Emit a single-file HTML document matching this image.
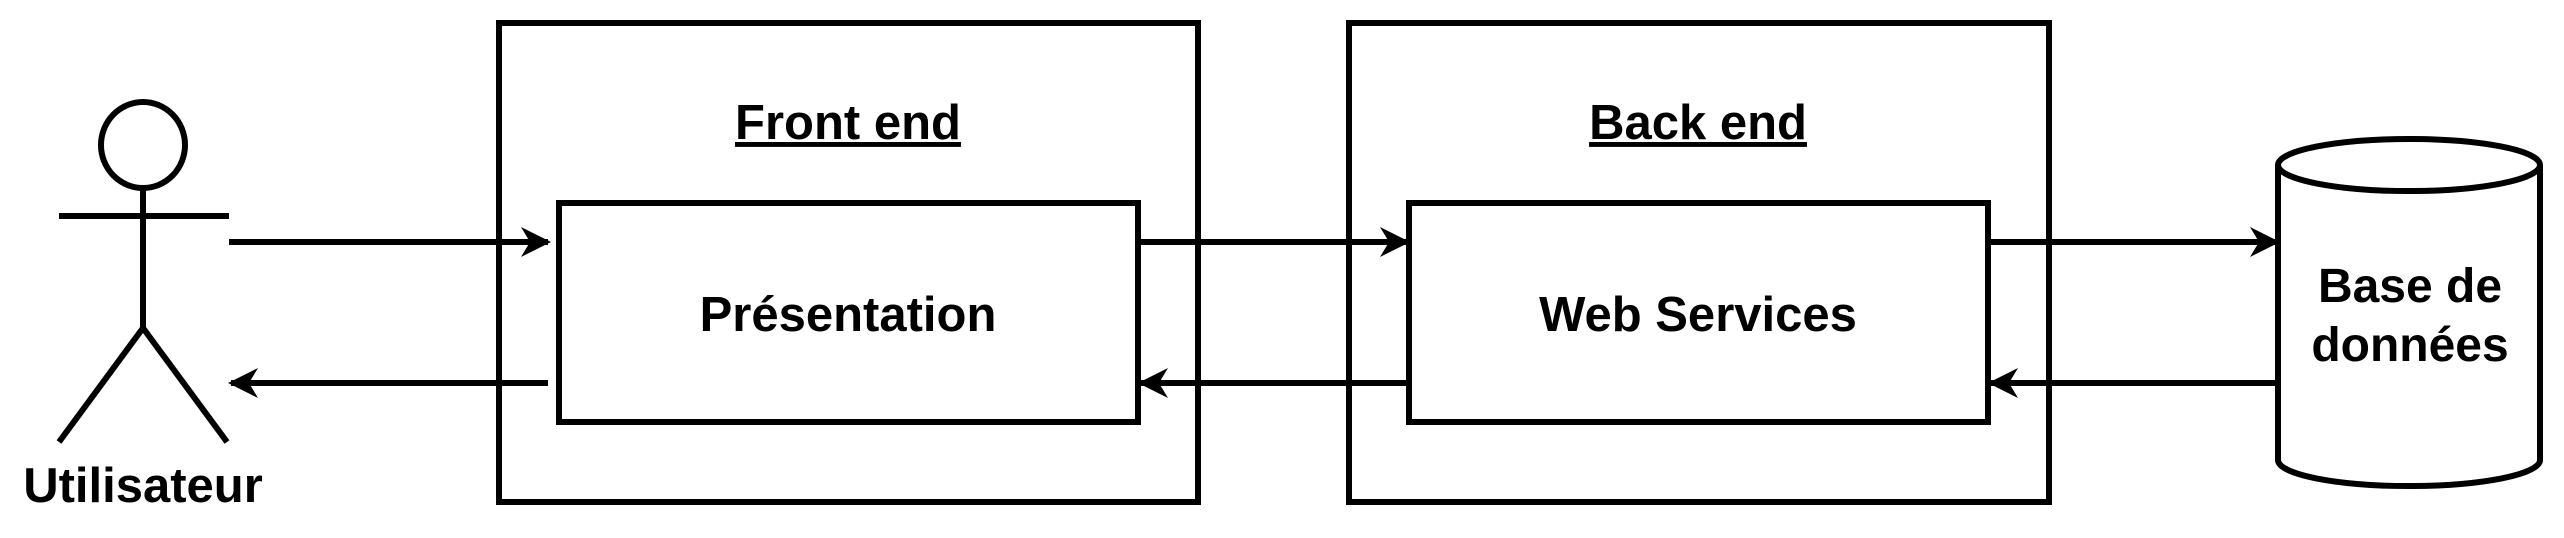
<!DOCTYPE html>
<html><head><meta charset="utf-8"><style>
html,body{margin:0;padding:0;background:#fff;}
svg{display:block;}
text{font-family:"Liberation Sans",Arial,sans-serif;font-weight:bold;fill:#000;}
</style></head><body>
<svg width="2564" height="538" viewBox="0 0 2564 538" xmlns="http://www.w3.org/2000/svg">
<defs>
<marker id="ah" markerWidth="30" markerHeight="30" refX="9" refY="5" orient="auto" markerUnits="userSpaceOnUse" viewBox="0 0 10 10">
<path d="M0,0 L10,5 L0,10 L3,5 Z" fill="#000"/>
</marker>
</defs>
<g stroke="#000" stroke-width="6" fill="none">
<ellipse cx="143" cy="145" rx="42" ry="43" fill="#fff"/>
<line x1="143" y1="188" x2="143" y2="328"/>
<line x1="59" y1="216" x2="229" y2="216"/>
<line x1="143" y1="328" x2="59" y2="442"/>
<line x1="143" y1="328" x2="227" y2="442"/>
</g>
<text x="143" y="502" font-size="49" text-anchor="middle">Utilisateur</text>

<rect x="499" y="23" width="699" height="479" fill="none" stroke="#000" stroke-width="6"/>
<text x="848" y="139" font-size="49" text-anchor="middle" text-decoration="underline">Front end</text>
<rect x="559" y="203" width="579" height="219" fill="none" stroke="#000" stroke-width="6"/>
<text x="848" y="331" font-size="49" text-anchor="middle">Présentation</text>

<rect x="1349" y="23" width="700" height="479" fill="none" stroke="#000" stroke-width="6"/>
<text x="1698" y="139" font-size="49" text-anchor="middle" text-decoration="underline">Back end</text>
<rect x="1409" y="203" width="579" height="219" fill="none" stroke="#000" stroke-width="6"/>
<text x="1698" y="331" font-size="49" text-anchor="middle">Web Services</text>

<g stroke="#000" stroke-width="6" fill="#fff">
<path d="M2278,165 L2278,460 A131,26 0 0 0 2540,460 L2540,165"/>
<ellipse cx="2409" cy="165" rx="131" ry="26"/>
</g>
<text x="2410" y="302" font-size="48" text-anchor="middle">Base de</text>
<text x="2410" y="361" font-size="48" text-anchor="middle">données</text>

<g stroke="#000" stroke-width="6" fill="none">
<line x1="229" y1="242" x2="548" y2="242" marker-end="url(#ah)"/>
<line x1="548" y1="383" x2="231" y2="383" marker-end="url(#ah)"/>
<line x1="1138" y1="242" x2="1407" y2="242" marker-end="url(#ah)"/>
<line x1="1409" y1="383" x2="1141" y2="383" marker-end="url(#ah)"/>
<line x1="1988" y1="242" x2="2277" y2="242" marker-end="url(#ah)"/>
<line x1="2278" y1="383" x2="1991" y2="383" marker-end="url(#ah)"/>
</g>
</svg>
</body></html>
